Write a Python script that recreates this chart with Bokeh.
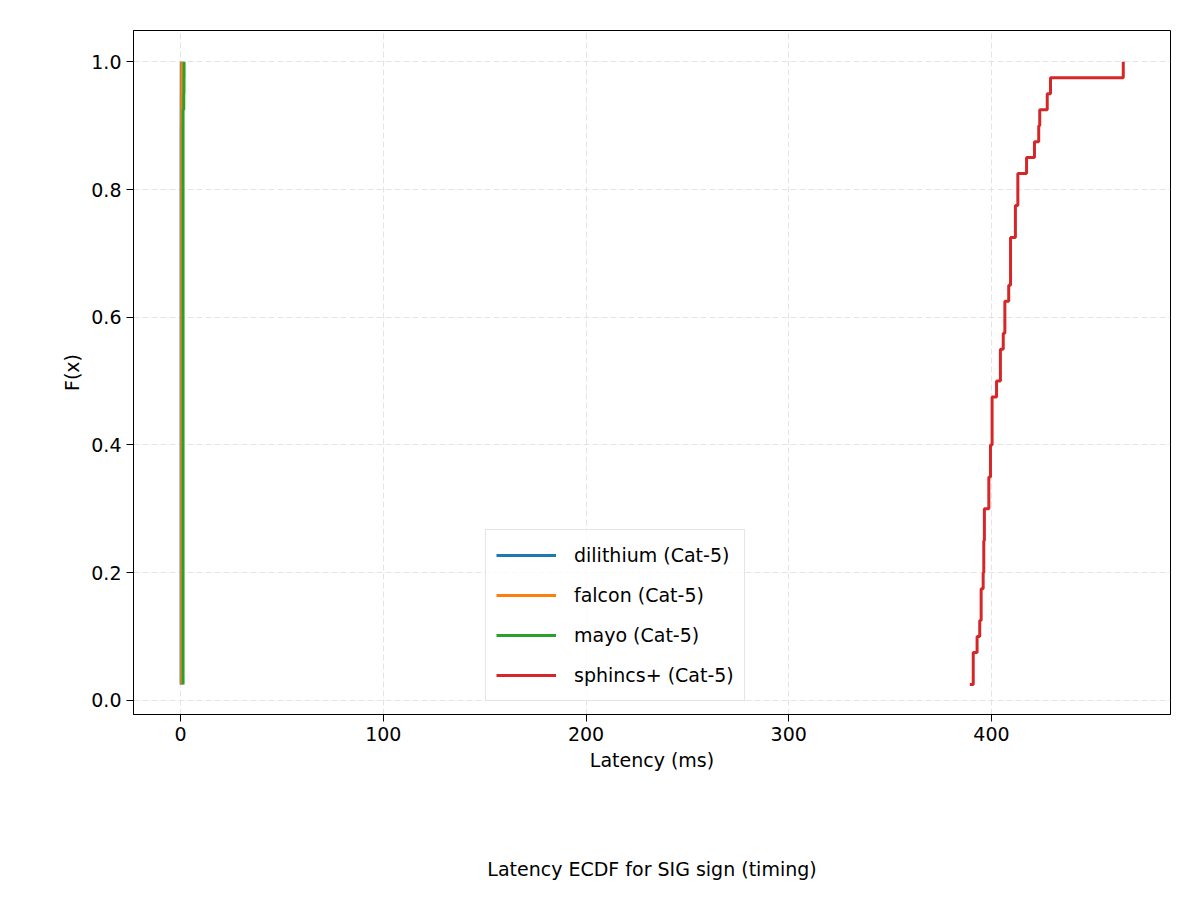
import numpy as np
from bokeh.plotting import figure
from bokeh.models import Range1d, Legend, LegendItem, Title, FixedTicker, CustomJSTickFormatter
from bokeh.embed import file_html
from bokeh.resources import INLINE

# latency samples (ms)
dilithium = [0.28] * 36 + [0.30, 0.31, 0.33, 0.35]
falcon = [0.55] * 37 + [0.58, 0.60, 0.62]
mayo = [1.25] * 37 + [1.60, 1.70, 1.75]
sphincs = [389.3, 391.0, 391.0, 392.9, 394.2, 394.9, 394.9, 395.9, 396.2, 396.2,
           396.5, 396.5, 398.7, 398.7, 399.5, 399.5, 400.3, 400.3, 400.3, 402.5,
           404.4, 404.4, 405.8, 406.6, 406.6, 408.5, 409.4, 409.4, 409.4, 411.8,
           411.8, 413.0, 413.0, 417.3, 421.2, 423.3, 423.8, 427.5, 429.1, 465.0]

series = [("dilithium (Cat-5)", dilithium, "#1f77b4"),
          ("falcon (Cat-5)", falcon, "#ff7f0e"),
          ("mayo (Cat-5)", mayo, "#2ca02c"),
          ("sphincs+ (Cat-5)", sphincs, "#d62728")]

p = figure(width=1184, height=884, output_backend="svg", toolbar_location=None,
           x_range=Range1d(-23.2, 488.3), y_range=Range1d(-0.022, 1.049),
           min_border_left=133, min_border_right=14, min_border_top=30,
           min_border_bottom=10)

items = []
for name, vals, color in series:
    xs = np.sort(np.array(vals))
    ys = np.arange(1, len(xs) + 1) / len(xs)
    r = p.step(xs, ys, mode="after", line_color=color, line_width=3)
    items.append(LegendItem(label=name, renderers=[r]))

legend = Legend(items=items, location=(352, 13), label_text_font="DejaVu Sans",
                label_text_font_size="19px", label_text_color="black",
                border_line_color="#cccccc", border_line_width=1,
                background_fill_alpha=0.8, glyph_width=60, glyph_height=30,
                label_height=30, spacing=10, padding=10, label_standoff=18)
p.add_layout(legend, "center")

p.xaxis.ticker = FixedTicker(ticks=[0, 100, 200, 300, 400])
p.yaxis.ticker = FixedTicker(ticks=[0, 0.2, 0.4, 0.6, 0.8, 1.0])
p.yaxis.formatter = CustomJSTickFormatter(code="return tick.toFixed(1)")

p.xaxis.axis_label = "Latency (ms)"
p.yaxis.axis_label = "F(x)"
for ax in (p.xaxis[0], p.yaxis[0]):
    ax.axis_label_text_font = "DejaVu Sans"
    ax.axis_label_text_font_style = "normal"
    ax.axis_label_text_font_size = "19px"
    ax.axis_label_text_color = "black"
    ax.major_label_text_font = "DejaVu Sans"
    ax.major_label_text_font_size = "19px"
    ax.major_label_text_color = "black"
    ax.minor_tick_line_color = None
    ax.major_tick_out = 7
    ax.major_tick_in = 0
    ax.major_tick_line_color = "black"
    ax.axis_line_color = "black"

p.grid.grid_line_color = "#dddddd"
p.grid.grid_line_dash = "6 3"
p.grid.grid_line_alpha = 0.8
p.outline_line_color = "black"
p.outline_line_width = 1

p.add_layout(Title(text=" ", text_font_size="58px"), "below")
p.add_layout(Title(text="Latency ECDF for SIG sign (timing)", align="center",
                   text_font="DejaVu Sans", text_font_style="normal",
                   text_font_size="19px", text_color="black"), "below")

open("out.html", "w").write(file_html(p, INLINE))
